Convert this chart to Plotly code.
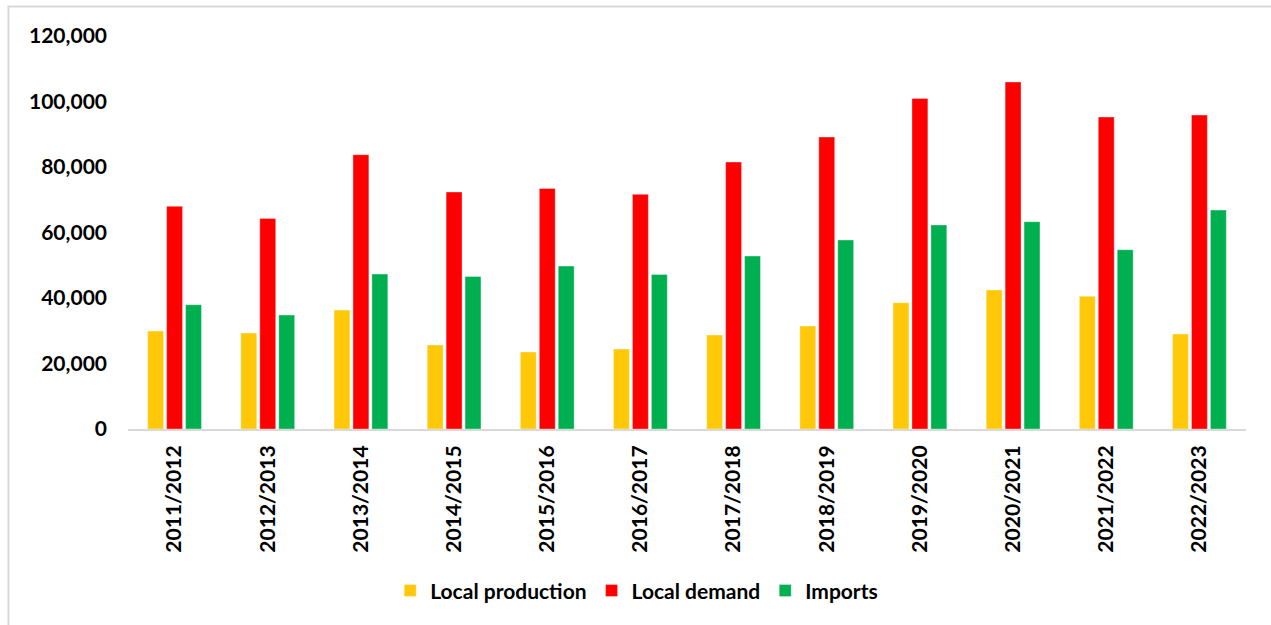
import plotly.graph_objects as go

categories = ["2011/2012", "2012/2013", "2013/2014", "2014/2015", "2015/2016", "2016/2017",
              "2017/2018", "2018/2019", "2019/2020", "2020/2021", "2021/2022", "2022/2023"]
local_production = [29900, 29300, 36300, 25650, 23500, 24400, 28700, 31450, 38550, 42450, 40500, 29000]
local_demand = [68000, 64300, 83750, 72350, 73450, 71650, 81500, 89150, 100950, 105950, 95250, 95850]
imports = [37950, 34800, 47300, 46600, 49750, 47200, 52800, 57700, 62300, 63300, 54750, 66850]

series = [
    ("Local production", local_production, "#FFC90A"),
    ("Local demand", local_demand, "#FF0000"),
    ("Imports", imports, "#00B050"),
]

FONT = "Lato"

fig = go.Figure()
for name, vals, color in series:
    fig.add_trace(go.Bar(
        x=categories, y=vals, name=name,
        marker=dict(color=color, line=dict(color="rgba(255,255,255,0.35)", width=1)),
    ))

fig.update_layout(
    width=1271, height=625,
    margin=dict(l=128, r=25, t=36, b=196),
    paper_bgcolor="white", plot_bgcolor="white",
    barmode="group", bargap=0.39, bargroupgap=0.16,
    font=dict(family=FONT, color="black"),
    showlegend=True,
    legend=dict(
        orientation="h", x=0.455, xanchor="center", y=-0.412, yanchor="middle",
        font=dict(family=FONT, size=21, color="black", weight="bold"),
        itemwidth=30,
    ),
    xaxis=dict(
        type="category", tickangle=-90, showgrid=False,
        showline=True, linecolor="#d9d9d9", linewidth=2,
        ticks="", ticklabelstandoff=6,
        tickfont=dict(family=FONT, size=21, color="black", weight="bold"),
    ),
    yaxis=dict(
        range=[0, 120000], dtick=20000, tickformat=",",
        showgrid=False, zeroline=False, showline=False, ticks="",
        ticklabelstandoff=20,
        tickfont=dict(family=FONT, size=21, color="black", weight="bold"),
    ),
    shapes=[dict(
        type="rect", xref="paper", yref="paper",
        x0=-0.1069, x1=1.03, y0=-0.52, y1=1.075,
        line=dict(color="#d9d9d9", width=2), fillcolor="rgba(0,0,0,0)", layer="below",
    )],
)

fig.write_html("out.html")
